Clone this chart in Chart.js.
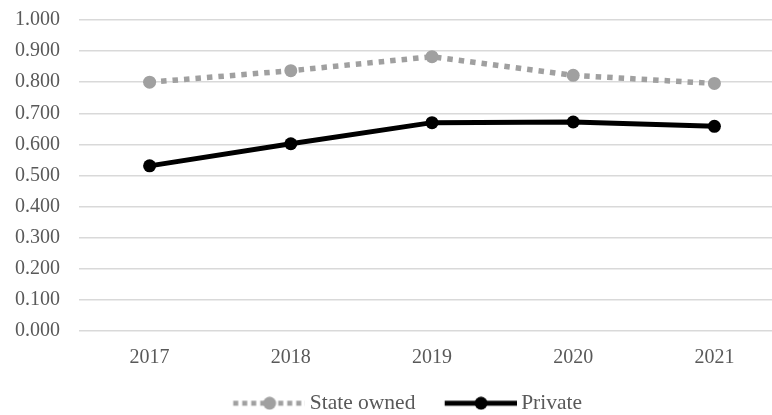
<!DOCTYPE html>
<html>
<head>
<meta charset="utf-8">
<script src="https://cdn.jsdelivr.net/npm/chart.js@4/dist/chart.umd.min.js"></script>
<style>
  html, body { margin: 0; padding: 0; background: #fff; overflow: hidden; }
  #wrap { width: 814px; height: 415px; }
</style>
</head>
<body>
<div id="wrap"><canvas id="c" width="814" height="415"></canvas></div>
<script>
const categories = ['2017', '2018', '2019', '2020', '2021'];
const stateOwned = [0.800, 0.837, 0.882, 0.822, 0.796];
const privateFirms = [0.531, 0.602, 0.670, 0.672, 0.658];
const seriesNames = ['State owned', 'Private'];

const FONT = "'Times New Roman', 'Liberation Serif', serif";
const GRAY = '#a0a0a0';
const TEXT = '#595959';
const LEG_FONT = 21.5;
const LEG_BOX = 90;   // legend box width reserved per item
const LEG_K = 24;     // left gap inside the box before the line sample
const LEG_OVER = 6.75; // line sample overshoot beyond the box on the right

// Legend marker: a line sample with a dot, drawn into a small canvas used as pointStyle
function legendMarker(color, dashed) {
  const W = LEG_BOX + 2 * LEG_OVER;
  const c = document.createElement('canvas');
  c.width = W; c.height = 14;
  const g = c.getContext('2d');
  const x0 = LEG_K + LEG_OVER, x1 = W, mid = (x0 + x1) / 2;
  g.strokeStyle = color;
  g.lineWidth = 5;
  g.lineCap = 'butt';
  if (dashed) g.setLineDash([5, 4]);
  g.beginPath(); g.moveTo(x0, 7); g.lineTo(x1, 7); g.stroke();
  g.setLineDash([]);
  g.fillStyle = color;
  g.beginPath(); g.arc(mid, 7, 6.5, 0, Math.PI * 2); g.fill();
  return c;
}
const markers = [legendMarker(GRAY, true), legendMarker('#000', false)];

const legendShift = {
  id: 'legendShift',
  afterLayout(chart) {
    const l = chart.legend;
    if (!l) return;
    l.left += 3; l.right += 3;
    l.top += 9; l.bottom += 9;
  }
};

new Chart(document.getElementById('c'), {
  type: 'line',
  data: {
    labels: categories,
    datasets: [
      {
        label: seriesNames[0],
        data: stateOwned,
        borderColor: GRAY,
        backgroundColor: GRAY,
        borderWidth: 5.5,
        borderDash: [5.5, 6],
        borderCapStyle: 'butt',
        pointRadius: 6.5,
        pointHoverRadius: 6.5,
        pointBorderWidth: 0,
        tension: 0
      },
      {
        label: seriesNames[1],
        data: privateFirms,
        borderColor: '#000',
        backgroundColor: '#000',
        borderWidth: 5,
        borderCapStyle: 'round',
        pointRadius: 6.5,
        pointHoverRadius: 6.5,
        pointBorderWidth: 0,
        tension: 0
      }
    ]
  },
  plugins: [legendShift],
  options: {
    responsive: false,
    animation: false,
    layout: { padding: { left: 0, right: 29, top: 20, bottom: 0 } },
    plugins: {
      tooltip: { enabled: false },
      legend: {
        position: 'bottom',
        labels: {
          font: { family: FONT, size: LEG_FONT },
          color: TEXT,
          usePointStyle: true,
          pointStyleWidth: LEG_BOX,
          boxHeight: 14,
          padding: 5,
          generateLabels(chart) {
            return chart.data.datasets.map((ds, i) => ({
              text: ds.label,
              fillStyle: ds.borderColor,
              strokeStyle: ds.borderColor,
              lineWidth: 0,
              pointStyle: markers[i],
              fontColor: TEXT,
              hidden: false,
              datasetIndex: i
            }));
          }
        }
      }
    },
    scales: {
      x: {
        offset: true,
        grid: { display: false, drawTicks: false },
        border: { display: false },
        ticks: { font: { family: FONT, size: 20 }, color: TEXT, padding: 15, maxRotation: 0 },
        afterFit(s) { s.height = 47.5; }
      },
      y: {
        min: 0,
        max: 1,
        grid: { color: '#d9d9d9', lineWidth: 1.5, drawTicks: false },
        border: { display: false },
        ticks: {
          stepSize: 0.1,
          font: { family: FONT, size: 20 },
          color: TEXT,
          padding: 19,
          callback: v => Number(v).toFixed(3)
        },
        afterFit(s) { s.width = 79; s.paddingTop = 10; s.paddingBottom = 10; }
      }
    }
  }
});
</script>
</body>
</html>
